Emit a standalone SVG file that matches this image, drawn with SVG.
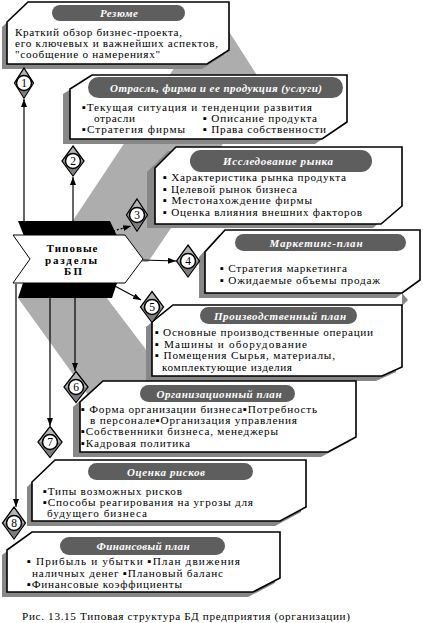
<svg xmlns="http://www.w3.org/2000/svg" width="423" height="623" viewBox="0 0 423 623">
<defs>
<style>
.band{fill:#adadad}
.sh{fill:#878787}
.bx{fill:#fff;stroke:#000;stroke-width:1.6}
.pill{fill:#5e5e5e}
.pt{font-family:'Liberation Serif','Times New Roman',serif;font-size:11px;font-weight:bold;font-style:italic;fill:#fff;text-anchor:middle}
.t{font-family:'Liberation Serif','Times New Roman',serif;font-size:11.2px;fill:#000}
.cn{stroke:#000;stroke-width:1.2;fill:none}
.dot{stroke-dasharray:2 2}
.dm{fill:#b4b4b4;stroke:#000;stroke-width:1.3}
.dml{fill:#7c7c7c}
.ci{fill:#fff;stroke:#000;stroke-width:1.5}
.n{font-family:'Liberation Serif','Times New Roman',serif;font-size:11.5px;fill:#000;text-anchor:middle}
.hub{font-family:'Liberation Serif','Times New Roman',serif;font-size:11px;font-weight:bold;fill:#000;text-anchor:middle}
.blk{fill:#000}
.arr{fill:#fff;stroke:#000;stroke-width:1}
</style>
<marker id="ah" viewBox="0 0 8 6" refX="8" refY="3" markerWidth="8" markerHeight="6" markerUnits="userSpaceOnUse" orient="auto"><path d="M0,0 L8,3 L0,6 z" fill="#000"/></marker>
</defs>
<rect x="0" y="0" width="423" height="623" fill="#fff"/>

<g id="band">
<polygon class="band" points="60,240 214,8 260,80 190,200 148,262 100,262"/>
<polygon class="band" points="18,298 100,289 207,430 124,445"/>
</g>

<g id="hub">
<polygon class="blk" points="18,221 110,221 117,236 24,236"/>
<polygon class="blk" points="23,283 117,283 112,298 18,298"/>
<polygon class="arr" points="13,235 125,235 143,259 125,283 13,283 30,259"/>
<text class="hub" x="72" y="252" textLength="51">Типовые</text>
<text class="hub" x="71" y="263.5" textLength="52">разделы</text>
<text class="hub" x="73" y="275" textLength="18">БП</text>
</g>

<g id="box1">
<polygon class="sh" transform="translate(-5,5)" points="28,2 229,2 229,50 207,64 7,64 7,22"/>
<polygon class="bx" points="28,2 229,2 229,50 207,64 7,64 7,22"/>
<rect class="pill" x="52" y="5" width="133" height="16" rx="8"/>
<text class="pt" x="119" y="17" textLength="38">Резюме</text>
<text class="t" x="15" y="36" textLength="167">Краткий обзор бизнес-проекта,</text>
<text class="t" x="15" y="47" textLength="203">его ключевых и важнейших аспектов,</text>
<text class="t" x="15" y="58" textLength="145">"сообщение о намерениях"</text>
</g>

<g id="box2">
<polygon class="sh" transform="translate(-7,5)" points="92,75 347,75 347,122 322,139 70,139 70,89"/>
<polygon class="bx" points="92,75 347,75 347,122 322,139 70,139 70,89"/>
<rect class="pill" x="88" y="77" width="255" height="21" rx="10.5"/>
<text class="pt" x="216" y="91.5" textLength="212">Отрасль, фирма и ее продукция (услуги)</text>
<text class="t" x="82" y="111" textLength="230">▪Текущая ситуация и тенденции развития</text>
<text class="t" x="94" y="122" textLength="41">отрасли</text>
<text class="t" x="203" y="122" textLength="114">▪ Описание продукта</text>
<text class="t" x="82" y="133" textLength="103">▪Стратегия фирмы</text>
<text class="t" x="203" y="133" textLength="123">▪ Права собственности</text>
</g>

<g id="box3">
<polygon class="sh" transform="translate(-8,4)" points="176,147 402,147 402,206 381,224 155,224 155,168"/>
<polygon class="bx" points="176,147 402,147 402,206 381,224 155,224 155,168"/>
<rect class="pill" x="190" y="150" width="182" height="22" rx="11"/>
<text class="pt" x="278" y="165" textLength="110">Исследование рынка</text>
<text class="t" x="163" y="181" textLength="183">▪ Характеристика рынка продукта</text>
<text class="t" x="163" y="192.5" textLength="134">▪ Целевой рынок бизнеса</text>
<text class="t" x="163" y="204" textLength="149">▪ Местонахождение фирмы</text>
<text class="t" x="163" y="215.5" textLength="199">▪ Оценка влияния внешних факторов</text>
</g>

<g id="box4">
<polygon class="sh" transform="translate(-6,5)" points="225,230 420,230 420,280 402,293 205,293 205,252"/>
<polygon class="sh" points="402,293 408,300 402,306"/>
<polygon class="bx" points="225,230 420,230 420,280 402,293 205,293 205,252"/>
<rect class="pill" x="235" y="234" width="171" height="17" rx="8.5"/>
<text class="pt" x="316" y="246.5" textLength="93">Маркетинг-план</text>
<text class="t" x="220" y="272" textLength="127">▪ Стратегия маркетинга</text>
<text class="t" x="220" y="284" textLength="160">▪ Ожидаемые объемы продаж</text>
</g>

<g id="box5">
<polygon class="sh" transform="translate(-6,5)" points="173,305 402,305 402,367 382,376 152,376 152,322"/>
<polygon class="bx" points="173,305 402,305 402,367 382,376 152,376 152,322"/>
<rect class="pill" x="200" y="307" width="157" height="17" rx="8.5"/>
<text class="pt" x="280" y="319.5" textLength="132">Производственный план</text>
<text class="t" x="155" y="336" textLength="218">▪ Основные производственные операции</text>
<text class="t" x="155" y="347.5" textLength="152">▪ Машины и оборудование</text>
<text class="t" x="155" y="359" textLength="180">▪ Помещения  Сырья, материалы,</text>
<text class="t" x="162" y="370.5" textLength="130">комплектующие изделия</text>
</g>

<g id="box6">
<polygon class="sh" transform="translate(-7,5)" points="103,381 356,381 356,437 328,452 80,452 80,402"/>
<polygon class="bx" points="103,381 356,381 356,437 328,452 80,452 80,402"/>
<rect class="pill" x="140" y="385" width="155" height="17" rx="8.5"/>
<text class="pt" x="219" y="397.5" textLength="125">Организационный план</text>
<text class="t" x="81" y="412.5" textLength="236">▪ Форма организации бизнеса▪Потребность</text>
<text class="t" x="90" y="424" textLength="207">в персонале▪Организация управления</text>
<text class="t" x="81" y="435" textLength="197">▪Собственники бизнеса, менеджеры</text>
<text class="t" x="81" y="446.5" textLength="109">▪Кадровая политика</text>
</g>

<g id="box7">
<polygon class="sh" transform="translate(-5,5)" points="55,460 306,460 306,507 280,521 32,521 32,482"/>
<polygon class="bx" points="55,460 306,460 306,507 280,521 32,521 32,482"/>
<rect class="pill" x="88" y="463" width="165" height="17" rx="8.5"/>
<text class="pt" x="166" y="475.5" textLength="78">Оценка рисков</text>
<text class="t" x="43" y="495" textLength="139">▪Типы возможных рисков</text>
<text class="t" x="43" y="506" textLength="210">▪Способы реагирования на угрозы для</text>
<text class="t" x="47" y="516.5" textLength="100">будущего бизнеса</text>
</g>

<g id="box8">
<polygon class="sh" transform="translate(-5,5)" points="32,532 280,532 280,578 253,592 7,592 7,550"/>
<polygon class="bx" points="32,532 280,532 280,578 253,592 7,592 7,550"/>
<rect class="pill" x="60" y="537" width="165" height="18" rx="9"/>
<text class="pt" x="143" y="550" textLength="93">Финансовый план</text>
<text class="t" x="27" y="565" textLength="213">▪ Прибыль и убытки ▪План движения</text>
<text class="t" x="32" y="576.5" textLength="191">наличных денег ▪Плановый баланс</text>
<text class="t" x="27" y="588" textLength="155">▪Финансовые коэффициенты</text>
</g>

<g id="connectors">
<line class="cn" x1="24" y1="222" x2="24" y2="99" marker-end="url(#ah)"/>
<line class="cn" x1="73" y1="222" x2="73" y2="177" marker-end="url(#ah)"/>
<line class="cn dot" x1="113" y1="231" x2="131" y2="226" marker-end="url(#ah)"/>
<line class="cn" x1="143" y1="260" x2="176" y2="261" marker-end="url(#ah)"/>
<line class="cn" x1="113" y1="285" x2="141" y2="300" marker-end="url(#ah)"/>
<line class="cn" x1="75" y1="298" x2="75" y2="371" marker-end="url(#ah)"/>
<line class="cn" x1="50" y1="298" x2="50" y2="426" marker-end="url(#ah)"/>
<line class="cn" x1="16" y1="284" x2="16" y2="507" marker-end="url(#ah)"/>
</g>

<g id="node1">
<polygon class="dm" points="24,68 33.5,83 24,98 14.5,83"/>
<polygon class="dml" points="15,83.5 33,83.5 24,97"/>
<circle class="ci" cx="24" cy="83" r="7.5"/>
<text class="n" x="24" y="87">1</text>
</g>
<g id="node2">
<polygon class="dm" points="73,146 84,161 73,176 62,161"/>
<polygon class="dml" points="63,161.5 83,161.5 73,175"/>
<circle class="ci" cx="73" cy="161" r="7.5"/>
<text class="n" x="73" y="165">2</text>
</g>
<g id="node3">
<polygon class="dm" points="137,199 147.5,215 137,231 126.5,215"/>
<polygon class="dml" points="127.5,215.5 146.5,215.5 137,230"/>
<circle class="ci" cx="137" cy="215" r="7.5"/>
<text class="n" x="137" y="219">3</text>
</g>
<g id="node4">
<polygon class="dm" points="188,245 199.5,261 188,277 176.5,261"/>
<polygon class="dml" points="177.5,261.5 198.5,261.5 188,276"/>
<circle class="ci" cx="188" cy="261" r="7.5"/>
<text class="n" x="188" y="265">4</text>
</g>
<g id="node5">
<polygon class="dm" points="152,291.5 163.5,307 152,322.5 140.5,307"/>
<polygon class="dml" points="141.5,307.5 162.5,307.5 152,321.5"/>
<circle class="ci" cx="152" cy="307" r="7.5"/>
<text class="n" x="152" y="311">5</text>
</g>
<g id="node6">
<polygon class="dm" points="76,371.5 88,387 76,402.5 64,387"/>
<polygon class="dml" points="65,387.5 87,387.5 76,401.5"/>
<circle class="ci" cx="76" cy="387" r="7.5"/>
<text class="n" x="76" y="391">6</text>
</g>
<g id="node7">
<polygon class="dm" points="50,426.5 62,442 50,457.5 38,442"/>
<polygon class="dml" points="39,442.5 61,442.5 50,456.5"/>
<circle class="ci" cx="50" cy="442" r="7.5"/>
<text class="n" x="50" y="446">7</text>
</g>
<g id="node8">
<polygon class="dm" points="14,507 25.5,523 14,539 2.5,523"/>
<polygon class="dml" points="3.5,523.5 24.5,523.5 14,538"/>
<circle class="ci" cx="14" cy="523" r="7.5"/>
<text class="n" x="14" y="527">8</text>
</g>

<text class="t" x="22" y="620" font-size="12" textLength="328">Рис. 13.15 Типовая структура БД предприятия (организации)</text>
</svg>
